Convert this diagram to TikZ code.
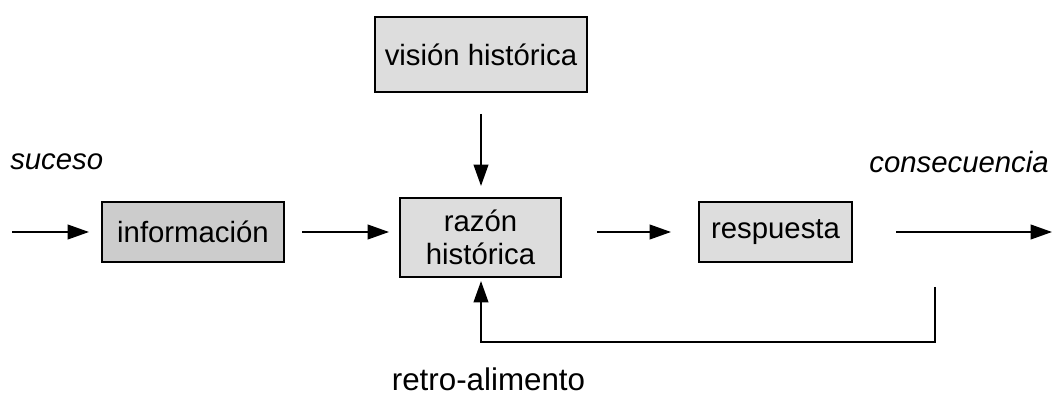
\documentclass[tikz,border=0pt]{standalone}
\usepackage{fontspec}
\setmainfont{Liberation Sans}
\usetikzlibrary{arrows.meta}
\definecolor{boxdark}{HTML}{CCCCCC}
\definecolor{boxlight}{HTML}{DDDDDD}
\begin{document}
\begin{tikzpicture}[x=0.75pt,y=-0.75pt,
  blk/.style={draw=black,line width=1.2pt,rectangle,inner sep=0pt,align=center,
    font=\fontsize{22}{25}\selectfont,fill=boxlight},
  conn/.style={line width=1.4pt,-{Triangle[length=16pt,width=11pt]}},
  lbl/.style={font=\fontsize{22}{25}\selectfont,inner sep=0pt}]
\useasboundingbox (0,0) rectangle (1052,398);
\node[blk,fill=boxdark,minimum width=182*0.75pt,minimum height=60*0.75pt] (info) at (193,232) {información};
\node[blk,minimum width=212*0.75pt,minimum height=75*0.75pt] (vision) at (481,54.5) {visión histórica};
\node[blk,minimum width=161*0.75pt,minimum height=79*0.75pt] (razon) at (480.5,237.5) {razón\\histórica};
\node[blk,minimum width=153*0.75pt,minimum height=60*0.75pt] (resp) at (775.5,232) {respuesta};
\coordinate (inS) at (12,232);
\coordinate (inE) at (89,232);
\coordinate (irS) at (302,232);
\coordinate (irE) at (389,232);
\coordinate (vrS) at (481,114);
\coordinate (vrE) at (481,186);
\coordinate (rrS) at (597,232);
\coordinate (rrE) at (671,232);
\coordinate (outS) at (896,232);
\coordinate (outE) at (1052,232);
\coordinate (fbS) at (935,287);
\coordinate (fbC) at (935,342);
\coordinate (fbD) at (481,342);
\coordinate (fbE) at (481,281);
\draw[conn] (inS) -- (inE);
\draw[conn] (irS) -- (irE);
\draw[conn] (vrS) -- (vrE);
\draw[conn] (rrS) -- (rrE);
\draw[conn] (outS) -- (outE);
\draw[conn] (fbS) -- (fbC) -- (fbD) -- (fbE);
\node[lbl,anchor=west] (suceso) at (10,162) {\itshape suceso};
\node[lbl,anchor=east] (conse) at (1049,162) {\itshape consecuencia};
\node[lbl,anchor=base,font=\fontsize{23.5}{26}\selectfont] (retro) at (488.5,391) {retro-alimento};
\end{tikzpicture}
\end{document}
